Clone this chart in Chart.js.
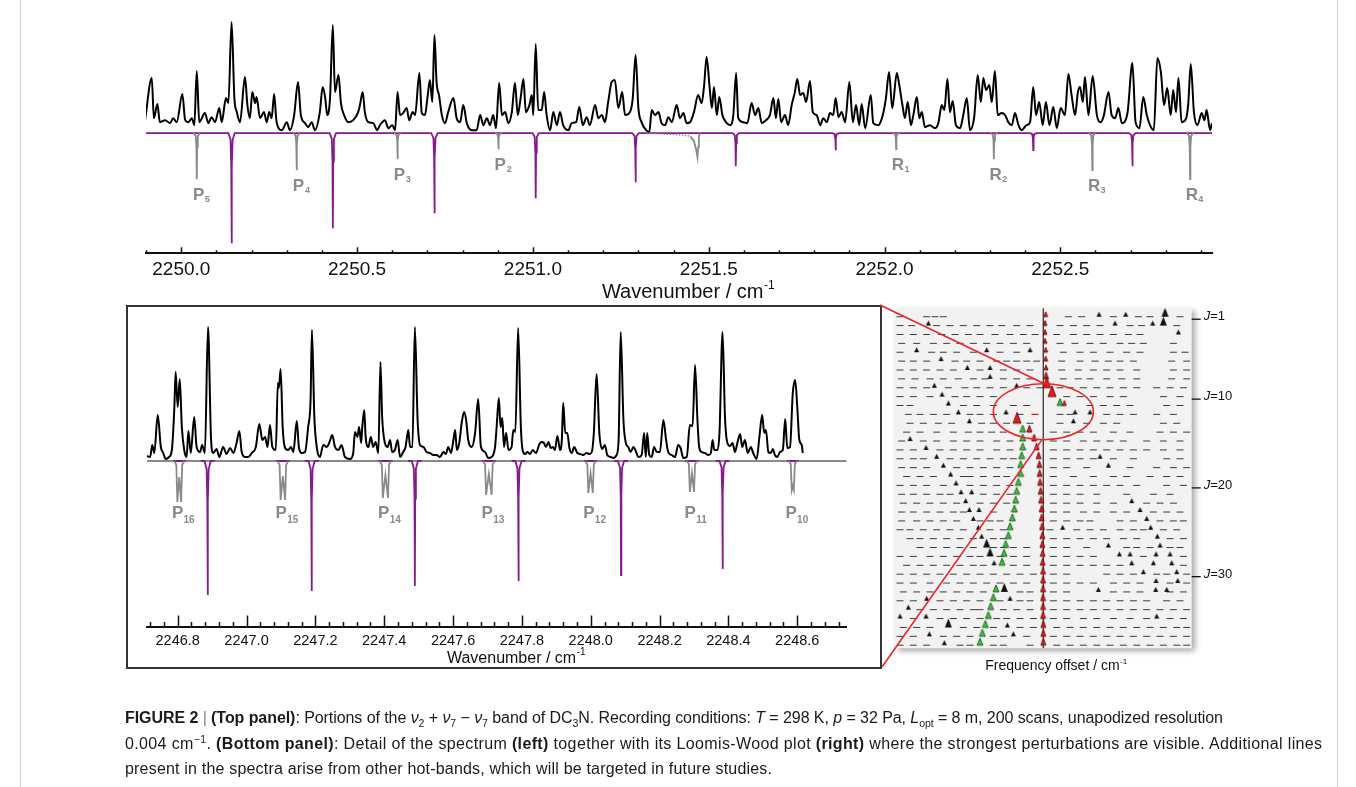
<!DOCTYPE html>
<html>
<head>
<meta charset="utf-8">
<title>DC3N spectrum</title>
<script src="https://cdn.jsdelivr.net/npm/chart.js@4.4.0/dist/chart.umd.min.js"></script>
<style>
  html, body { margin: 0; padding: 0; background: #fff; }
  #page { position: relative; width: 1356px; height: 787px; overflow: hidden; font-family: 'Liberation Sans', Arial, Helvetica, sans-serif; }
  #page canvas { position: absolute; left: 0; top: 0; }
  #frame { position: absolute; left: 20px; top: -2px; width: 1316px; height: 792px; border-left: 1px solid #d2d2d2; border-right: 1px solid #d2d2d2; }
  #caption { position: absolute; left: 125px; top: 705px; font-size: 16px; line-height: 25.5px; color: #1a1a1a; white-space: nowrap; }
  #caption div { height: 25.5px; }
  #caption sub, #caption sup { font-size: 10.5px; line-height: 0; }
  #caption .bar { color: #888; }
  #cap1 { letter-spacing: -0.07px; }
  #cap2 { letter-spacing: 0.36px; }
  #cap3 { letter-spacing: 0.19px; }
</style>
</head>
<body>
<div id="page">
  <div id="frame"></div>
  <canvas id="top-chart" width="1356" height="787"></canvas>
  <canvas id="detail-chart" width="1356" height="787"></canvas>
  <canvas id="lw-chart" width="1356" height="787"></canvas>
  <div id="caption">
    <div id="cap1"><b>FIGURE 2</b> <span class="bar">|</span> <b>(Top panel)</b>: Portions of the <i>ν</i><sub>2</sub> + <i>ν</i><sub>7</sub> − <i>ν</i><sub>7</sub> band of DC<sub>3</sub>N. Recording conditions: <i>T</i> = 298 K, <i>p</i> = 32 Pa, <i>L</i><sub>opt</sub> = 8 m, 200 scans, unapodized resolution</div>
    <div id="cap2">0.004 cm<sup>−1</sup>. <b>(Bottom panel)</b>: Detail of the spectrum <b>(left)</b> together with its Loomis-Wood plot <b>(right)</b> where the strongest perturbations are visible. Additional lines</div>
    <div id="cap3">present in the spectra arise from other hot-bands, which will be targeted in future studies.</div>
  </div>
</div>
<script>
const FONT = "'Liberation Sans', Arial, Helvetica, sans-serif";
const GRAY = '#8a8a8a';
const PURPLE = '#86198f';

// ---- top panel: observed spectrum (wavenumber / cm-1, intensity a.u.) ----
const topWn = [
  2249.897,2249.916,2249.922,2249.932,2249.939,2249.954,2249.968,2249.977,2249.987,2250.003,
  2250.011,2250.020,2250.030,2250.037,2250.044,2250.051,2250.067,2250.077,2250.086,2250.096,
  2250.108,2250.115,2250.127,2250.134,2250.143,2250.151,2250.158,2250.167,2250.181,2250.188,
  2250.195,2250.202,2250.210,2250.214,2250.224,2250.235,2250.243,2250.250,2250.257,2250.264,
  2250.271,2250.286,2250.300,2250.309,2250.321,2250.332,2250.340,2250.352,2250.361,2250.371,
  2250.380,2250.394,2250.402,2250.409,2250.415,2250.423,2250.431,2250.437,2250.447,2250.454,
  2250.463,2250.475,2250.489,2250.503,2250.508,2250.516,2250.522,2250.532,2250.546,2250.557,
  2250.565,2250.579,2250.589,2250.600,2250.608,2250.615,2250.622,2250.631,2250.641,2250.648,
  2250.658,2250.665,2250.677,2250.684,2250.693,2250.700,2250.707,2250.714,2250.720,2250.726,
  2250.733,2250.741,2250.750,2250.759,2250.774,2250.783,2250.793,2250.802,2250.812,2250.826,
  2250.840,2250.850,2250.859,2250.869,2250.878,2250.887,2250.895,2250.904,2250.912,2250.921,
  2250.930,2250.940,2250.949,2250.957,2250.965,2250.973,2250.980,2250.990,2250.997,2251.001,
  2251.008,2251.015,2251.025,2251.032,2251.039,2251.049,2251.058,2251.068,2251.077,2251.086,
  2251.101,2251.110,2251.123,2251.132,2251.142,2251.153,2251.162,2251.177,2251.186,2251.196,
  2251.205,2251.214,2251.224,2251.233,2251.243,2251.254,2251.262,2251.276,2251.284,2251.292,
  2251.300,2251.309,2251.322,2251.331,2251.338,2251.347,2251.357,2251.366,2251.376,2251.385,
  2251.395,2251.409,2251.418,2251.428,2251.437,2251.447,2251.458,2251.470,2251.480,2251.487,
  2251.494,2251.502,2251.509,2251.515,2251.523,2251.530,2251.539,2251.549,2251.561,2251.570,
  2251.578,2251.584,2251.598,2251.610,2251.622,2251.632,2251.641,2251.651,2251.663,2251.674,
  2251.684,2251.691,2251.698,2251.706,2251.717,2251.726,2251.736,2251.745,2251.752,2251.760,
  2251.769,2251.777,2251.788,2251.796,2251.807,2251.817,2251.826,2251.836,2251.845,2251.854,
  2251.861,2251.869,2251.878,2251.888,2251.900,2251.910,2251.919,2251.928,2251.935,2251.945,
  2251.961,2251.968,2251.982,2251.995,2252.004,2252.013,2252.022,2252.035,2252.042,2252.051,
  2252.058,2252.066,2252.075,2252.082,2252.092,2252.099,2252.106,2252.115,2252.129,2252.144,
  2252.153,2252.163,2252.170,2252.179,2252.186,2252.194,2252.203,2252.215,2252.224,2252.234,
  2252.243,2252.255,2252.265,2252.274,2252.281,2252.289,2252.298,2252.305,2252.314,2252.322,
  2252.333,2252.343,2252.352,2252.362,2252.371,2252.381,2252.390,2252.404,2252.414,2252.423,
  2252.431,2252.440,2252.450,2252.459,2252.469,2252.480,2252.490,2252.501,2252.513,2252.523,
  2252.532,2252.542,2252.550,2252.556,2252.564,2252.570,2252.580,2252.592,2252.604,2252.615,
  2252.624,2252.637,2252.646,2252.656,2252.665,2252.675,2252.691,2252.705,2252.714,2252.725,
  2252.736,2252.746,2252.755,2252.766,2252.776,2252.786,2252.795,2252.804,2252.814,2252.821,
  2252.829,2252.836,2252.845,2252.858,2252.864,2252.871,2252.880,2252.890,2252.902,2252.910,
  2252.916,2252.926,2252.931
];
const topInt = [
  13,55,15,29,11,13,10,15,11,39,
  13,11,15,8,62,11,20,10,16,11,
  25,11,35,30,111,35,21,11,56,28,
  15,41,30,36,15,21,11,21,15,39,
  11,3,11,3,18,51,18,10,6,11,
  3,21,46,36,18,35,108,41,58,30,
  18,11,13,21,28,41,21,11,10,3,
  8,13,5,8,3,41,18,20,25,13,
  21,18,60,20,18,35,53,31,98,51,
  38,18,10,21,35,15,11,28,10,3,
  3,18,8,15,8,18,5,50,18,21,
  10,21,50,18,35,54,21,28,38,18,
  89,23,23,41,18,3,21,8,21,8,
  3,10,11,26,8,16,8,28,15,18,
  11,31,51,53,25,41,18,21,35,78,
  25,11,3,1,23,18,21,10,8,16,
  11,28,15,20,10,11,21,38,30,48,
  76,48,25,46,18,36,18,11,8,18,
  60,15,11,10,30,18,25,10,13,18,
  35,15,34,11,18,8,28,41,54,38,
  40,31,52,21,18,8,15,11,20,18,
  35,16,21,11,51,11,28,8,29,5,
  38,10,8,18,35,61,25,60,48,28,
  15,31,8,18,36,15,21,6,8,5,
  10,28,23,54,21,32,8,5,18,35,
  3,16,58,31,55,43,48,31,62,18,
  20,18,11,8,20,8,3,8,11,46,
  18,31,8,31,8,26,5,25,18,59,
  38,18,41,46,31,56,18,57,18,11,
  18,41,18,15,25,10,20,70,11,5,
  36,18,8,3,75,61,28,45,18,43,
  21,55,11,15,30,69,21,8,20,13,
  23,3,10
];
// simulated band lines (purple) and assigned lines (gray), depth below baseline
const topPurpleWn = [2250.143, 2250.431, 2250.720, 2251.008, 2251.292, 2251.577, 2251.861, 2252.423, 2252.705];
const topPurpleDepth = [110, 95, 80, 65, 49, 33, 17, 17, 33];
const topGrayWn = [2250.044, 2250.328, 2250.615, 2250.902, 2252.033, 2252.311, 2252.591, 2252.869];
const topGrayDepth = [46, 37, 26, 16, 16, 26, 37, 46];
const topGrayBranch = ['P', 'P', 'P', 'P', 'R', 'R', 'R', 'R'];
const topGrayJ = [5, 4, 3, 2, 1, 2, 3, 4];
const topTailWn = [2251.321, 2251.380, 2251.425, 2251.448];
const topTailInt = [0, -1, -2, -3];
const topBroadWn = [2251.448, 2251.458, 2251.464, 2251.468, 2251.470, 2251.472, 2251.476];
const topBroadInt = [-3, -8, -16, -24, -14, -3, 0];
const topTicks = [2250.0, 2250.5, 2251.0, 2251.5, 2252.0, 2252.5];

// ---- bottom-left panel: detail of the spectrum ----
const botWn = [
  2246.710,2246.720,2246.726,2246.732,2246.742,2246.751,2246.758,2246.765,2246.775,2246.783,
  2246.790,2246.794,2246.800,2246.806,2246.812,2246.819,2246.826,2246.831,2246.838,2246.848,
  2246.855,2246.865,2246.871,2246.879,2246.888,2246.897,2246.903,2246.913,2246.921,2246.932,
  2246.942,2246.952,2246.962,2246.971,2246.979,2246.986,2246.996,2247.005,2247.015,2247.027,
  2247.037,2247.046,2247.054,2247.061,2247.068,2247.075,2247.085,2247.091,2247.094,2247.099,
  2247.105,2247.112,2247.121,2247.129,2247.136,2247.146,2247.152,2247.160,2247.170,2247.179,
  2247.186,2247.190,2247.197,2247.204,2247.213,2247.223,2247.233,2247.240,2247.249,2247.257,
  2247.267,2247.276,2247.286,2247.301,2247.310,2247.315,2247.322,2247.327,2247.333,2247.336,
  2247.342,2247.346,2247.354,2247.361,2247.368,2247.375,2247.383,2247.389,2247.394,2247.402,
  2247.410,2247.417,2247.423,2247.431,2247.439,2247.446,2247.455,2247.462,2247.470,2247.475,
  2247.482,2247.489,2247.497,2247.504,2247.514,2247.523,2247.533,2247.543,2247.552,2247.562,
  2247.572,2247.579,2247.586,2247.594,2247.601,2247.606,2247.611,2247.618,2247.625,2247.632,
  2247.638,2247.644,2247.654,2247.664,2247.673,2247.681,2247.693,2247.702,2247.712,2247.722,
  2247.727,2247.733,2247.738,2247.743,2247.748,2247.754,2247.761,2247.770,2247.775,2247.781,
  2247.789,2247.797,2247.802,2247.809,2247.816,2247.824,2247.831,2247.841,2247.851,2247.858,
  2247.864,2247.870,2247.877,2247.884,2247.890,2247.896,2247.903,2247.911,2247.916,2247.920,
  2247.926,2247.932,2247.938,2247.945,2247.952,2247.961,2247.969,2247.978,2247.988,2247.996,
  2248.003,2248.009,2248.017,2248.025,2248.033,2248.041,2248.048,2248.058,2248.066,2248.075,
  2248.081,2248.087,2248.095,2248.102,2248.109,2248.116,2248.124,2248.132,2248.138,2248.148,
  2248.155,2248.160,2248.164,2248.170,2248.177,2248.184,2248.192,2248.201,2248.211,2248.219,
  2248.225,2248.235,2248.245,2248.254,2248.261,2248.269,2248.279,2248.288,2248.296,2248.303,
  2248.310,2248.315,2248.322,2248.332,2248.342,2248.349,2248.354,2248.359,2248.368,2248.374,
  2248.383,2248.390,2248.397,2248.405,2248.412,2248.419,2248.426,2248.434,2248.440,2248.448,
  2248.456,2248.465,2248.472,2248.482,2248.490,2248.498,2248.504,2248.509,2248.516,2248.523,
  2248.529,2248.535,2248.542,2248.550,2248.558,2248.565,2248.571,2248.579,2248.587,2248.594,
  2248.600,2248.606,2248.613,2248.616
];
const botInt = [
  5,4,16,8,46,14,8,2,4,11,
  51,89,54,82,34,11,4,30,8,44,
  14,9,16,8,134,21,8,12,4,14,
  7,13,8,18,30,9,4,4,8,14,
  37,21,24,14,36,14,11,78,73,92,
  34,13,11,14,9,40,14,8,9,34,
  61,131,44,14,4,16,14,18,26,14,
  11,16,4,2,8,29,24,34,18,33,
  51,24,14,24,14,19,8,99,44,18,
  14,21,9,11,21,4,9,14,31,14,
  14,134,41,16,14,9,8,6,6,4,
  9,7,14,8,21,31,11,18,38,49,
  41,21,14,28,62,14,9,3,4,14,
  36,63,34,43,14,28,11,14,31,29,
  133,34,11,7,9,7,11,8,17,19,
  18,14,19,13,14,11,25,11,21,58,
  28,28,13,8,14,8,7,6,8,7,
  9,28,87,28,12,16,6,4,3,6,
  21,129,41,18,14,9,14,9,4,6,
  28,4,28,6,4,14,9,9,41,21,
  9,6,4,16,13,3,4,36,35,96,
  41,14,9,8,6,8,21,11,11,28,
  129,44,18,15,18,9,18,27,14,21,
  8,14,8,2,24,46,28,31,9,8,
  12,6,4,9,11,42,13,14,68,81,
  54,21,16,8
];
const botPurpleWn = [2246.887, 2247.189, 2247.489, 2247.790, 2248.088, 2248.383];
const botPurpleDepth = [134, 130, 125, 120, 114, 108];
const botGrayWnA = [2246.799, 2247.099, 2247.396, 2247.696, 2247.993, 2248.288, 2248.584];
const botGrayWnB = [2246.810, 2247.112, 2247.411, 2247.712, 2248.006, 2248.300, 2248.590];
const botGrayDepth = [41, 39, 37, 34, 32, 31, 29];
const botGrayMid = [16, 15, 14, 13, 12, 12, 25];
const botGrayJ = [16, 15, 14, 13, 12, 11, 10];
const botTicks = [2246.8, 2247.0, 2247.2, 2247.4, 2247.6, 2247.8, 2248.0, 2248.2, 2248.4, 2248.6];

// ---- Loomis-Wood plot: offsets per J row (arbitrary offset units, 0 = band prediction) ----
const lwDash = [
  [-43,-35,-32.5,-30,7.5,11.5,21,28.5,32,41],
  [-43,-39.5,-32,-28,-24,-20,-16,-12.5,-8,-4,5,9,13,17,26,29.5,40],
  [-43,-39,-35,-30.5,-26.5,-22.5,-19,-14.5,-10,-6,-2.5,4,9,13,17,21,25.5,29],
  [-42.5,-38,-33,-29,-25,-21,-17,-13,-9,-5,5,9.5,14,18,23,26.5,30,39],
  [-43,-33.5,-30,-26,-21,-13,-8,6,11,15,20,25,29,39,42.5],
  [-42.5,-39,-35,-26.5,-23,-19,-14,-11,-8,-5,-2,5.5,11,15.5,19.5,23,27,38.5,43],
  [-43,-39,-35,-31,-27,-19,-12,-8,-4,5.5,10.5,15,19,23,28,39,43],
  [-42.5,-38.5,-34,-30,-25.5,-21,-17.5,-12,-8,-4,6,10.5,14,19,23.5,28,38.5,43],
  [-43,-39,-35,-28.5,-23.5,-20,-16,-12,-5,-1,5,8,12,16,20,24,28,34,38,42],
  [-43,-39,-34,-26.5,-23,-19,-15,7,11,15,20,24,36,41],
  [-43,-40,-24,-20,-15,-9,-5,14,18,22,26,37,41],
  [-40.5,-37,-33,-29,-22,-19,-15,-7,5,8,19,23,27,34,39],
  [-40,-36,-31.5,-27.5,-18.5,-15,-11,-4,5,13,18,22,36,40],
  [-41,-37,-32,-27,-22.5,-19,-15.5,-12,3,7,11,15,21,26,35,39,43],
  [-42.5,-36,-32,-27,-23,-19,-14,-10,3,7,12,16,20,24,31,36,41],
  [-43,-39,-31,-27,-23,-19,-14,-10,3,7,11,15,19,23,27,31,36,41],
  [-43,-39,-36,-28,-24,-20,-16,-12,-9,3,7,11,15,21,27,37,41],
  [-42.5,-39,-35,-26,-22,-18,-14,-10,3,7,13,26,34,39,43],
  [-41,-37,-33,-24,-22,-18,-14,-11,3,9,15,21,25,32,37,41],
  [-43,-39,-35,-30,-22,-18,-14,-10,3,7,11,15,19,23,28,37,42],
  [-42.5,-39,-35,-31,-28,-18,-14,-10,3,7,11,16,25,33,38],
  [-42,-38,-34,-30,-26,-19,-15,-11,3,7,11,16,21,31,35,39],
  [-42.5,-39,-35,-31,-27,-24,-15,3,7,12,16,21,25,33,37,41],
  [-42.5,-38,-34,-30,-26,-19,-16,-13,3,7,11,14,23,27,35,39,42],
  [-43,-40,-36,-32,-28,-24,-16,-12,2,10,14,18,23,27,30,36,40],
  [-40,-37,-33,-29,-25,-21,-15,-12,3,7,11,15,19,24,28,38,42],
  [-37,-33,-29,-25,-21,-15,-12,-9,-5,3,7,13,25,28,32,38,41],
  [-43,-39,-34,-30,-26,-22,-19,-13,-9,-5,3,7,11,15,30,42],
  [-41,-37,-33,-29,-25,-21,-18,-9,-5,3,7,11,15,19,23,42],
  [-43,-39,-35,-31,-27,-23,-19,-15,-11,-7,-3,3,7,19,23,27,34,37,43],
  [-43,-39,-34,-29,-25,-21,-17,-13,-9,-5,3,7,11,15,21,25,29,38,43],
  [-42,-38,-34,-30,-26,-22,-18,-7,-4,3,7,21,25,29,38,42],
  [-43,-39,-31,-27,-23,-19,-13,-7,-4,3,7,11,15,19,23,27,31,37,41],
  [-37,-33,-29,-25,-21,-19,-12,-8,-4,3,7,11,15,19,23,27,31,35,39,43],
  [-39,-31,-27,-23,-19,-14,-11,-7,-3,3,7,12,16,21,26,31,38,42],
  [-42,-38,-34,-24,-20,-15,-7,-3,4,8,12,16,20,24,28,32,36,40,43],
  [-43,-39,-30,-26,-22,-15,-12,-5,3,7,11,15,19,23,27,31,35,39,43],
  [-43,-39,-35,-25,-22,-15,-12,-4,4,8,12,16,20,24,28,32,36,40,43]
];
const lwTri = [
  [16.7,24.7],[-34.5,21.5,32.8],[40.5],[],[-38,-17,-4],[-30.7],[-22.8,-16],[-16],[-32.7,-8],[-30.4],
  [-28.5],[-25.5,-11.2,9.5,14],[-22.2,9],[],[-40],[-35.2],[-32,17],[-30,19.5],[-27.8],[-26.2],
  [-24.7,-21.5],[-23.3,26.5],[-22.2,-19.3,29],[-21,31],[-19.5,5.8,32.2],[-18.5,34.2],[19.5,35],[22.8,26,33.8,38],[-14.8,26.5,33,38.5],[30,40],
  [33.8,40.3],[16.5,33.7,37],[-35,-10],[-40.5],[-43,-35.2,34],[-10.8],[-34.2,-9],[-29.7]
];
const lwBigJ = [1, 2, 27, 28, 32, 36];
const lwBigX = [36.5, 36, -17, -16, -11.7, -28.5];
const lwRed = [0.7,0.5,0.5,0.5,0.7,0.7,0.8,0.8,1.0,2.6,6.3,null,-7.9,-4.2,-2.8,-2.0,-1.4,-1.2,-1.1,-1.0,
  -0.8,-0.7,-0.5,-0.5,-0.4,-0.3,-0.3,-0.2,-0.2,-0.1,-0.1,-0.1,-0.1,-0.1,-0.1,0,0,0];
const lwRedStrongJ = [9, 10, 13];
const lwRedWeakJ = [1, 2, 3, 4, 5, 6, 7, 11];
const lwRedDashJ = [12];
const lwRedDashX = [-2.5];
const lwGreenJ = [11,14,15,16,17,18,19,20,21,22,23,24,25,26,27,28,29,32,33,34,35,36,37,38];
const lwGreenX = [5.0,-6.2,-6.2,-6.2,-6.5,-6.8,-6.8,-7.5,-8.0,-8.3,-8.7,-9.3,-10,-10.5,-11.3,-11.8,-12.4,-14.2,-15,-15.8,-16.5,-17.4,-18.3,-19];
const lwJLabels = [1, 10, 20, 30];

// ---------- helpers ----------
function pts(xs, ys) { return xs.map((x, i) => ({ x: x, y: ys[i] })); }

function spike(c, d) {
  return [
    { x: c - 0.009, y: 0 }, { x: c - 0.003, y: -0.06 * d }, { x: c - 0.001, y: -0.3 * d },
    { x: c, y: -d },
    { x: c + 0.001, y: -0.3 * d }, { x: c + 0.003, y: -0.06 * d }, { x: c + 0.009, y: 0 }
  ];
}

function doublet(c1, c2, d, m) {
  const mid = (c1 + c2) / 2;
  return [
    { x: c1 - 0.009, y: 0 }, { x: c1 - 0.003, y: -0.1 * d }, { x: c1, y: -d },
    { x: mid, y: -m },
    { x: c2, y: -d }, { x: c2 + 0.003, y: -0.1 * d }, { x: c2 + 0.009, y: 0 }
  ];
}

function drawUnitTitle(ctx, text, cx, cy, size) {
  ctx.save();
  ctx.fillStyle = '#111';
  ctx.textBaseline = 'middle';
  ctx.textAlign = 'left';
  const supSize = Math.round(size * 0.6);
  ctx.font = size + 'px ' + FONT;
  const w1 = ctx.measureText(text).width;
  ctx.font = supSize + 'px ' + FONT;
  const w2 = ctx.measureText('-1').width;
  const x0 = cx - (w1 + w2) / 2;
  ctx.font = size + 'px ' + FONT;
  ctx.fillText(text, x0, cy);
  ctx.font = supSize + 'px ' + FONT;
  ctx.fillText('-1', x0 + w1 + 0.5, cy - size * 0.36);
  ctx.restore();
}

function innerTicks(id, majors, minors, majorLen, minorLen) {
  return {
    id: id,
    afterDraw(chart) {
      const { ctx, scales: { x } } = chart;
      const yb = chart.chartArea.bottom;
      ctx.save();
      ctx.strokeStyle = '#111';
      ctx.lineWidth = 1.5;
      ctx.beginPath();
      minors.forEach(v => { const p = Math.round(x.getPixelForValue(v)) + 0.5; ctx.moveTo(p, yb); ctx.lineTo(p, yb - minorLen); });
      majors.forEach(v => { const p = Math.round(x.getPixelForValue(v)) + 0.5; ctx.moveTo(p, yb); ctx.lineTo(p, yb - majorLen); });
      ctx.stroke();
      ctx.restore();
    }
  };
}

// ---------- top panel ----------
const TOP_MIN = 2249.8996, TOP_MAX = 2252.9314;
const topMinor = [];
for (let k = 0; k <= 30; k++) topMinor.push(+(2249.9 + k * 0.1).toFixed(1));

const topPurpleLine = [{ x: TOP_MIN, y: 0 }];
topPurpleWn.forEach((c, i) => topPurpleLine.push(...spike(c, topPurpleDepth[i])));
topPurpleLine.push({ x: TOP_MAX, y: 0 });

const topGrayLine = [];
topGrayWn.forEach((c, i) => topGrayLine.push(...spike(c, topGrayDepth[i]), { x: c + 0.0095, y: null }));

const topLabels = {
  id: 'topLabels',
  afterDatasetsDraw(chart) {
    const { ctx, scales: { x, y } } = chart;
    ctx.save();
    ctx.fillStyle = GRAY;
    ctx.textBaseline = 'alphabetic';
    topGrayWn.forEach((c, i) => {
      const px = x.getPixelForValue(c);
      const base = y.getPixelForValue(-topGrayDepth[i]) + 21;
      ctx.font = 'bold 17px ' + FONT;
      ctx.textAlign = 'center';
      ctx.fillText(topGrayBranch[i], px + 1.8, base);
      ctx.font = 'bold 9px ' + FONT;
      ctx.textAlign = 'left';
      ctx.fillText(String(topGrayJ[i]), px + 8.3, base + 2);
    });
    ctx.restore();
    drawUnitTitle(ctx, 'Wavenumber / cm', 688, 292.5, 20);
  }
};

new Chart(document.getElementById('top-chart'), {
  type: 'line',
  data: {
    datasets: [
      { data: pts(topWn, topInt), borderColor: '#000', borderWidth: 2, cubicInterpolationMode: 'monotone', order: 4 },
      { data: topPurpleLine, borderColor: PURPLE, borderWidth: 1.8, order: 3 },
      { data: pts(topTailWn, topTailInt), borderColor: GRAY, borderWidth: 1.4, borderDash: [1.5, 1.5], order: 2 },
      { data: pts(topBroadWn, topBroadInt), borderColor: GRAY, borderWidth: 1.8, order: 2 },
      { data: topGrayLine, borderColor: GRAY, borderWidth: 1.8, spanGaps: false, order: 1 }
    ]
  },
  options: {
    responsive: false,
    animation: false,
    events: [],
    layout: { padding: { left: 146, right: 144, top: 18, bottom: 493.7 } },
    elements: { point: { radius: 0 }, line: { tension: 0 } },
    plugins: { legend: { display: false }, tooltip: { enabled: false } },
    scales: {
      x: {
        type: 'linear', min: TOP_MIN, max: TOP_MAX,
        afterFit: s => { s.height = 40; },
        afterBuildTicks: s => { s.ticks = topTicks.map(v => ({ value: v })); },
        grid: { display: false, drawTicks: false },
        border: { display: true, color: '#111', width: 2 },
        ticks: { autoSkip: false, maxRotation: 0, padding: 5, color: '#111', font: { family: FONT, size: 19 }, callback: v => v.toFixed(1) }
      },
      y: { display: false, min: -120, max: 115 }
    }
  },
  plugins: [innerTicks('topTicks', topTicks, topMinor, 6, 3), topLabels]
});

// ---------- bottom-left panel ----------
const BOT_MIN = 2246.70994, BOT_MAX = 2248.74364;
const botMinor = [];
for (let k = 0; k <= 50; k++) botMinor.push(+(2246.72 + k * 0.04).toFixed(2));

const botPurpleSegs = [];
botPurpleWn.forEach((c, i) => botPurpleSegs.push([{ x: c - 0.02, y: 0 }, ...spike(c, botPurpleDepth[i]), { x: c + 0.02, y: 0 }]));
botGrayWnA.forEach((c, i) => botPurpleSegs.push([{ x: c - 0.013, y: 0 }, { x: botGrayWnB[i] + 0.013, y: 0 }]));
botPurpleSegs.sort((a, b) => a[0].x - b[0].x);
const botPurpleLine = [];
botPurpleSegs.forEach(seg => botPurpleLine.push(...seg, { x: seg[seg.length - 1].x + 0.0005, y: null }));

const botGrayLine = [];
botGrayWnA.forEach((c, i) => botGrayLine.push(...doublet(c, botGrayWnB[i], botGrayDepth[i], botGrayMid[i]), { x: botGrayWnB[i] + 0.0095, y: null }));

const botDecor = {
  id: 'botDecor',
  afterDatasetsDraw(chart) {
    const { ctx, scales: { x, y } } = chart;
    ctx.save();
    ctx.fillStyle = GRAY;
    ctx.textBaseline = 'alphabetic';
    const base = y.getPixelForValue(-57);
    botGrayWnA.forEach((c, i) => {
      const px = x.getPixelForValue((c + botGrayWnB[i]) / 2);
      ctx.font = 'bold 17px ' + FONT;
      ctx.textAlign = 'center';
      ctx.fillText('P', px - 1.7, base);
      ctx.font = 'bold 10px ' + FONT;
      ctx.textAlign = 'left';
      ctx.fillText(String(botGrayJ[i]), px + 4.3, base + 5);
    });
    ctx.restore();
    drawUnitTitle(ctx, 'Wavenumber / cm', 516, 658.5, 16);
  },
  afterDraw(chart) {
    const ctx = chart.ctx;
    ctx.save();
    ctx.strokeStyle = '#333';
    ctx.lineWidth = 2;
    ctx.strokeRect(127, 306, 754, 362);
    ctx.restore();
  }
};

new Chart(document.getElementById('detail-chart'), {
  type: 'line',
  data: {
    datasets: [
      { data: [{ x: BOT_MIN, y: 0 }, { x: BOT_MAX, y: 0 }], borderColor: GRAY, borderWidth: 1.8, order: 5 },
      { data: pts(botWn, botInt), borderColor: '#000', borderWidth: 2, cubicInterpolationMode: 'monotone', order: 4 },
      { data: botPurpleLine, borderColor: PURPLE, borderWidth: 1.8, spanGaps: false, order: 3 },
      { data: botGrayLine, borderColor: GRAY, borderWidth: 1.8, spanGaps: false, order: 2 }
    ]
  },
  options: {
    responsive: false,
    animation: false,
    events: [],
    layout: { padding: { left: 146.7, right: 509.3, top: 320, bottom: 130.5 } },
    elements: { point: { radius: 0 }, line: { tension: 0 } },
    plugins: { legend: { display: false }, tooltip: { enabled: false } },
    scales: {
      x: {
        type: 'linear', min: BOT_MIN, max: BOT_MAX,
        afterFit: s => { s.height = 30; },
        afterBuildTicks: s => { s.ticks = botTicks.map(v => ({ value: v })); },
        grid: { display: false, drawTicks: false },
        border: { display: true, color: '#111', width: 2 },
        ticks: { autoSkip: false, maxRotation: 0, padding: 6, color: '#111', font: { family: FONT, size: 14.5 }, callback: v => v.toFixed(1) }
      },
      y: { display: false, min: -165.5, max: 141 }
    }
  },
  plugins: [innerTicks('botTicks', botTicks, botMinor, 11, 4.5), botDecor]
});

// ---------- Loomis-Wood plot ----------
function makeTri(w, h, fill, stroke) {
  const c = document.createElement('canvas');
  c.width = w + 2;
  c.height = 2 * h + 2;
  const g = c.getContext('2d');
  g.beginPath();
  g.moveTo(1, h + 1);
  g.lineTo(1 + w / 2, 1);
  g.lineTo(1 + w, h + 1);
  g.closePath();
  g.fillStyle = fill;
  g.fill();
  if (stroke) { g.lineWidth = 0.8; g.strokeStyle = stroke; g.stroke(); }
  return c;
}
const triBlack = makeTri(5, 5, '#111');
const triBlackBig = makeTri(7, 9, '#111');
const triRed = makeTri(5, 7, '#e3191c', '#5a0a0a');
const triRedWeak = makeTri(4, 5, '#e3191c', '#5a0a0a');
const triRedBig = makeTri(8, 11, '#e3191c', '#5a0a0a');
const triGreen = makeTri(6, 7, '#39c43a', '#1d4a1d');

const dashPts = [];
lwDash.forEach((row, i) => row.forEach(x => dashPts.push({ x: x, y: i + 1 })));
const triPts = [];
lwTri.forEach((row, i) => row.forEach(x => triPts.push({ x: x, y: i + 1 })));
const redPts = [], redStyles = [];
lwRed.forEach((x, i) => {
  if (x === null) return;
  const J = i + 1;
  redPts.push({ x: x, y: J });
  redStyles.push(lwRedStrongJ.includes(J) ? triRedBig : (lwRedWeakJ.includes(J) ? triRedWeak : triRed));
});

const lwDecor = {
  id: 'lwDecor',
  beforeDatasetsDraw(chart) {
    const { ctx, chartArea: a } = chart;
    ctx.save();
    ctx.shadowColor = 'rgba(0,0,0,0.35)';
    ctx.shadowBlur = 6;
    ctx.shadowOffsetX = 3;
    ctx.shadowOffsetY = 3;
    ctx.fillStyle = '#f2f2f2';
    ctx.fillRect(a.left, a.top, a.width, a.height);
    ctx.restore();
  },
  afterDraw(chart) {
    const { ctx, chartArea: a, scales: { x, y } } = chart;
    ctx.save();
    // J labels on the right edge
    ctx.strokeStyle = '#111';
    ctx.lineWidth = 1.3;
    ctx.fillStyle = '#111';
    ctx.textBaseline = 'middle';
    lwJLabels.forEach(J => {
      const py = y.getPixelForValue(J);
      ctx.beginPath();
      ctx.moveTo(a.right, py + 2.5);
      ctx.lineTo(a.right + 9, py + 2.5);
      ctx.stroke();
      ctx.font = 'italic 13px ' + FONT;
      ctx.textAlign = 'left';
      ctx.fillText('J', a.right + 12, py);
      const wJ = ctx.measureText('J').width;
      ctx.font = '13px ' + FONT;
      ctx.fillText('=' + J, a.right + 12 + wJ, py);
    });
    // zoom marker: ellipse and connector lines
    ctx.strokeStyle = '#e8262b';
    ctx.lineWidth = 1.6;
    ctx.beginPath();
    ctx.ellipse(x.getPixelForValue(0), y.getPixelForValue(11.7), 50, 28, 0, 0, Math.PI * 2);
    ctx.stroke();
    ctx.beginPath();
    ctx.moveTo(880, 305);
    ctx.lineTo(x.getPixelForValue(0), y.getPixelForValue(8.5));
    ctx.moveTo(882, 667);
    ctx.lineTo(x.getPixelForValue(-0.5), y.getPixelForValue(14.9));
    ctx.stroke();
    ctx.restore();
    drawUnitTitle(ctx, 'Frequency offset / cm', 1056, 666.5, 14);
  }
};

new Chart(document.getElementById('lw-chart'), {
  type: 'scatter',
  data: {
    datasets: [
      { data: dashPts, pointStyle: 'line', pointRadius: 3.5, borderColor: '#3c3c3c', borderWidth: 1, order: 6 },
      { data: [{ x: 0, y: 0.05 }, { x: 0, y: 38.35 }], showLine: true, pointRadius: 0, borderColor: '#444', borderWidth: 1, order: 5 },
      { data: triPts, pointStyle: triBlack, pointRadius: 3, order: 4 },
      { data: pts(lwBigX, lwBigJ), pointStyle: triBlackBig, pointRadius: 3, order: 3 },
      { data: pts(lwGreenX, lwGreenJ), pointStyle: triGreen, pointRadius: 3, order: 2 },
      { data: redPts, pointStyle: redStyles, pointRadius: 3, order: 1 },
      { data: pts(lwRedDashX, lwRedDashJ), pointStyle: 'line', pointRadius: 3.5, borderColor: '#e3191c', borderWidth: 1.2, order: 0 }
    ]
  },
  options: {
    responsive: false,
    animation: false,
    events: [],
    layout: { padding: { left: 895, right: 164.3, top: 308.3, bottom: 138.7 } },
    plugins: { legend: { display: false }, tooltip: { enabled: false } },
    scales: {
      x: { type: 'linear', display: false, min: -44.5, max: 44.5 },
      y: { type: 'linear', display: false, min: 0.05, max: 38.35, reverse: true }
    }
  },
  plugins: [lwDecor]
});
</script>
</body>
</html>
